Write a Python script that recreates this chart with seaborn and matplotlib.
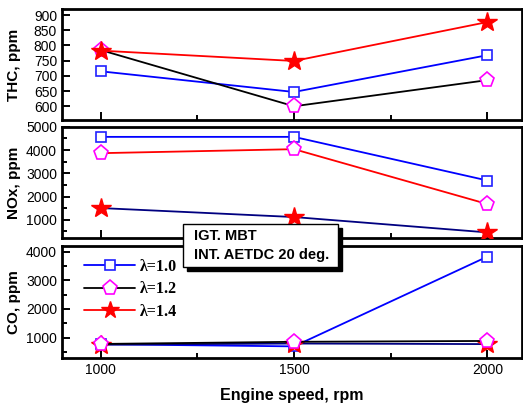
import numpy as np
import pandas as pd
import seaborn as sns
import matplotlib
matplotlib.use("Agg")
import matplotlib.pyplot as plt
from matplotlib.patches import Rectangle
from matplotlib.lines import Line2D
from matplotlib.ticker import MultipleLocator

sns.set_style("ticks")
plt.rcParams['font.family'] = ['Liberation Sans', 'DejaVu Sans']
plt.rcParams['axes.edgecolor'] = 'black'
plt.rcParams['xtick.color'] = 'black'
plt.rcParams['ytick.color'] = 'black'
plt.rcParams['text.color'] = 'black'
plt.rcParams['axes.labelcolor'] = 'black'

speed = [1000, 1500, 2000]
lambdas = ["λ=1.0", "λ=1.2", "λ=1.4"]

thc_10 = [715, 647, 768]
thc_12 = [785, 600, 686]
thc_14 = [783, 749, 877]

nox_10 = [4570, 4570, 2690]
nox_12 = [3868, 4040, 1676]
nox_14 = [1504, 1117, 455]

co_10 = [765, 690, 3830]
co_12 = [775, 850, 880]
co_14 = [750, 790, 770]

marker_styles = {
    "λ=1.0": dict(marker='s', ms=7.5, mfc='white', mec='#2020ff', mew=1.2),
    "λ=1.2": dict(marker='p', ms=11, mfc='white', mec='#ff00ff', mew=1.2),
    "λ=1.4": dict(marker='*', ms=15, mfc='#ff0000', mec='#ff0000', mew=1.0),
}

panels = [
    ("THC, ppm", [thc_10, thc_12, thc_14], ['#0000ff', '#000000', '#ff0000'],
     (555, 920), 50, None, [2, 2, 3]),
    ("NOx, ppm", [nox_10, nox_12, nox_14], ['#0000ff', '#ff0000', '#000080'],
     (220, 5000), 1000, 500, [2, 2, 3]),
    ("CO, ppm", [co_10, co_12, co_14], ['#0000ff', '#000000', '#000080'],
     (290, 4200), 1000, 500, [2, 4, 3]),
]

fig = plt.figure(figsize=(5.23, 4.08), dpi=100)
rects = [(0.1185, 0.706, 0.88, 0.272),
         (0.1185, 0.417, 0.88, 0.272),
         (0.1185, 0.123, 0.88, 0.274)]
axes = []
for (label, series, lcolors, ylim, major, minor, zs), r in zip(panels, rects):
    ax = fig.add_axes(r)
    axes.append(ax)
    for lam, vals, lc, z in zip(lambdas, series, lcolors, zs):
        df = pd.DataFrame({"speed": speed, "val": vals})
        sns.lineplot(data=df, x="speed", y="val", ax=ax, color=lc, lw=1.3,
                     label=lam, zorder=z, **marker_styles[lam])
    ax.set_xlim(900, 2090)
    ax.set_ylim(*ylim)
    ax.xaxis.set_major_locator(MultipleLocator(500))
    ax.xaxis.set_minor_locator(MultipleLocator(250))
    ax.yaxis.set_major_locator(MultipleLocator(major))
    if minor:
        ax.yaxis.set_minor_locator(MultipleLocator(minor))
    ax.tick_params(which='both', direction='in', width=1.4, labelsize=10,
                   top=False, right=False, colors='black')
    ax.tick_params(which='major', length=6)
    ax.tick_params(which='minor', length=3.5)
    for s in ax.spines.values():
        s.set_linewidth(2)
        s.set_color('black')
        s.set_visible(True)
    ax.set_ylabel(label, fontsize=11, fontweight='bold')
    ax.yaxis.set_label_coords(-0.088, 0.5)
    ax.set_xlabel("")
    if ax.get_legend():
        ax.get_legend().remove()

ax1, ax2, ax3 = axes
ax1.set_yticks([600, 650, 700, 750, 800, 850, 900])
ax2.set_yticks([1000, 2000, 3000, 4000, 5000])
ax3.set_yticks([1000, 2000, 3000, 4000])
ax1.tick_params(labelbottom=False)
ax2.tick_params(labelbottom=False)
ax3.set_xticks([1000, 1500, 2000])
ax3.set_xlabel("Engine speed, rpm", fontsize=11.5, fontweight='bold', labelpad=8)

# legend handles: λ=1.0 blue, λ=1.2 black, λ=1.4 red
leg_colors = ['#0000ff', '#000000', '#ff0000']
leg_styles = {
    "λ=1.0": dict(marker='s', ms=7.5, mfc='white', mec='#2020ff', mew=1.2),
    "λ=1.2": dict(marker='p', ms=11, mfc='white', mec='#ff00ff', mew=1.2),
    "λ=1.4": dict(marker='*', ms=13, mfc='#ff0000', mec='#ff0000', mew=1.0),
}
hs = [Line2D([], [], color=c, lw=1.3, **leg_styles[l]) for l, c in zip(lambdas, leg_colors)]
ax3.legend(hs, lambdas, loc='upper left', bbox_to_anchor=(0.02, 1.0), frameon=False,
           prop={'family': 'Liberation Serif', 'weight': 'bold', 'size': 11.5},
           handlelength=3.2, handletextpad=0.3, labelspacing=0.4, borderaxespad=0.4)

# annotation box with shadow
W, H = 523, 408
bx, by, bw, bh = 183, 224, 155, 43
fig.patches.append(Rectangle(((bx + 4) / W, 1 - (by + bh + 4) / H), bw / W, bh / H,
                             transform=fig.transFigure, facecolor='black',
                             edgecolor='black', zorder=10))
fig.patches.append(Rectangle((bx / W, 1 - (by + bh) / H), bw / W, bh / H,
                             transform=fig.transFigure, facecolor='white',
                             edgecolor='black', lw=1.0, zorder=11))
fig.text((bx + 11) / W, 1 - (by + 12) / H, "IGT. MBT", fontsize=10.5, fontweight='bold',
         va='center', ha='left', zorder=12)
fig.text((bx + 11) / W, 1 - (by + 31) / H, "INT. AETDC 20 deg.", fontsize=10.5,
         fontweight='bold', va='center', ha='left', zorder=12)

fig.savefig("out.png", dpi=100)
